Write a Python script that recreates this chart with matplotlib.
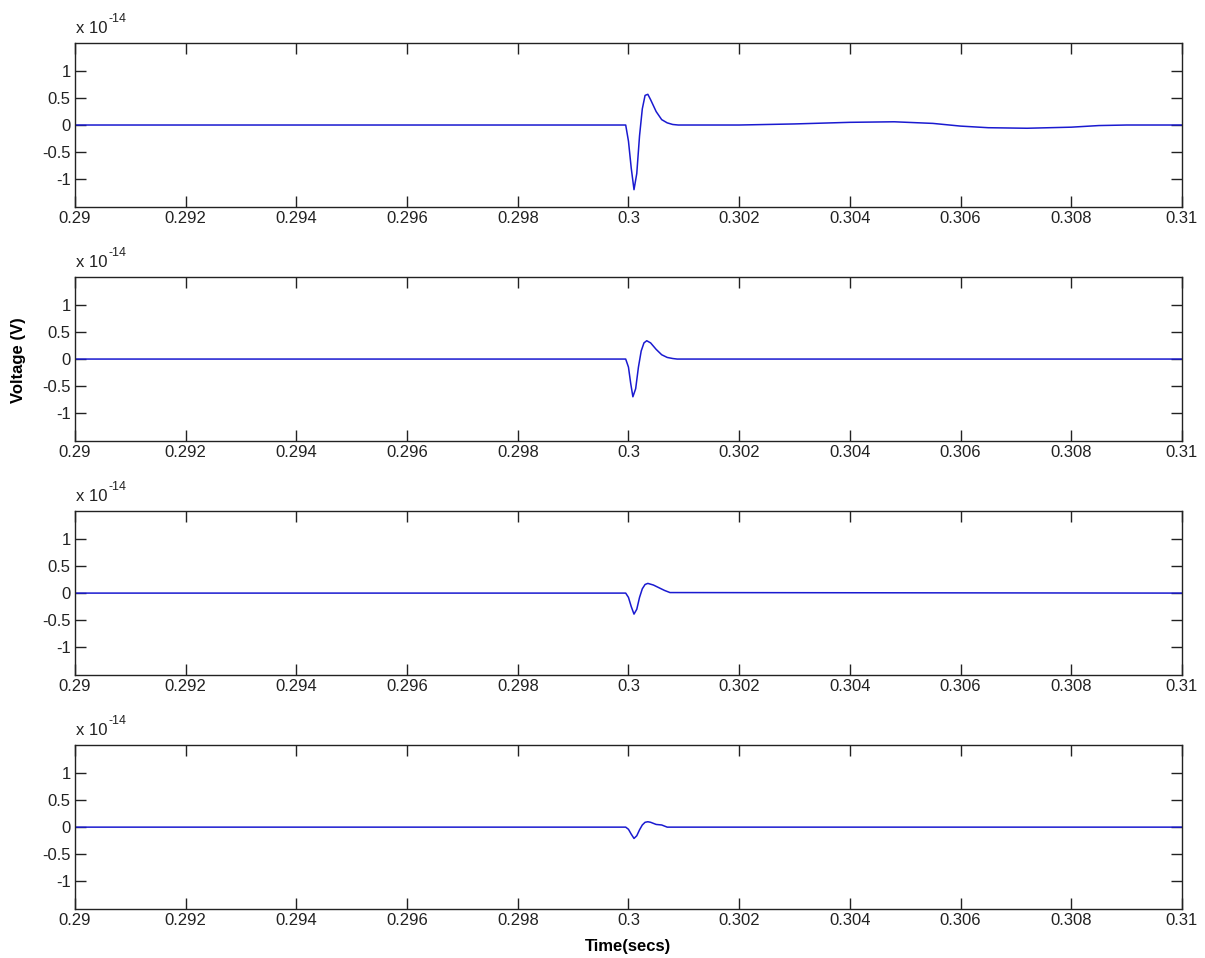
import numpy as np
import matplotlib
matplotlib.use("Agg")
import matplotlib.pyplot as plt

plt.rcParams['font.family'] = ['Liberation Sans', 'DejaVu Sans']

# tiempos y voltajes (en unidades de 1e-14 V)
t1 = [0.29, 0.29995, 0.30000, 0.30005, 0.30010, 0.30015, 0.30020, 0.30025,
      0.30030, 0.30035, 0.30040, 0.30050, 0.30060, 0.30070, 0.30080, 0.30090,
      0.3020, 0.3030, 0.3040, 0.3048, 0.3055, 0.3060, 0.3065, 0.3072,
      0.3080, 0.3085, 0.3090, 0.31]
v1 = [0, 0, -0.3, -0.8, -1.2, -0.9, -0.2, 0.3,
      0.55, 0.57, 0.47, 0.25, 0.1, 0.04, 0.01, 0,
      0, 0.02, 0.05, 0.06, 0.03, -0.02, -0.05, -0.06,
      -0.04, -0.01, 0, 0]

t2 = [0.29, 0.29995, 0.30000, 0.30004, 0.30008, 0.30013, 0.30018, 0.30023,
      0.30028, 0.30033, 0.30040, 0.30050, 0.30060, 0.30070, 0.30080, 0.30088, 0.31]
v2 = [0, 0, -0.15, -0.45, -0.70, -0.55, -0.15, 0.15,
      0.30, 0.34, 0.30, 0.18, 0.08, 0.03, 0.01, 0, 0]

t3 = [0.29, 0.29995, 0.30000, 0.30005, 0.30010, 0.30015, 0.30020, 0.30025,
      0.30030, 0.30035, 0.30045, 0.30055, 0.30065, 0.30075, 0.31]
v3 = [0, 0, -0.08, -0.25, -0.39, -0.30, -0.08, 0.08,
      0.16, 0.18, 0.15, 0.10, 0.05, 0.01, 0]

t4 = [0.29, 0.29995, 0.30000, 0.30005, 0.30010, 0.30015, 0.30020, 0.30025,
      0.30030, 0.30035, 0.30040, 0.30050, 0.30060, 0.30070, 0.31]
v4 = [0, 0, -0.04, -0.13, -0.21, -0.16, -0.05, 0.04,
      0.09, 0.10, 0.09, 0.05, 0.04, 0.0, 0]

series = [(t1, v1), (t2, v2), (t3, v3), (t4, v4)]

xticks = [0.29, 0.292, 0.294, 0.296, 0.298, 0.3, 0.302, 0.304, 0.306, 0.308, 0.31]
xlabels = ['0.29', '0.292', '0.294', '0.296', '0.298', '0.3', '0.302',
           '0.304', '0.306', '0.308', '0.31']
yticks = [-1, -0.5, 0, 0.5, 1]
ylabels = ['-1', '-0.5', '0', '0.5', '1']

fig = plt.figure(figsize=(12.05, 9.58), dpi=100)

bottoms = [0.784, 0.5397, 0.2954, 0.0511]
for (t, v), b in zip(series, bottoms):
    ax = fig.add_axes([0.0622, b, 0.9187, 0.171])
    ax.plot(t, v, color='#1a1ad0', lw=1.1)
    ax.set_xlim(0.29, 0.31)
    ax.set_ylim(-1.52, 1.52)
    ax.set_xticks(xticks)
    ax.set_xticklabels(xlabels)
    ax.set_yticks(yticks)
    ax.set_yticklabels(ylabels)
    ax.tick_params(direction='in', length=8, width=1, top=True, right=True,
                   labelsize=12, pad=3, colors='#222222')
    for s in ax.spines.values():
        s.set_linewidth(1)
        s.set_color('#222222')
    # multiplicador estilo MATLAB
    ax.annotate('x 10', xy=(0, 1), xycoords='axes fraction',
                xytext=(1, 5), textcoords='offset points',
                fontsize=12, ha='left', va='bottom', color='#222222')
    ax.annotate('-14', xy=(0, 1), xycoords='axes fraction',
                xytext=(24, 13), textcoords='offset points',
                fontsize=9, ha='left', va='bottom', color='#222222')

fig.text(0.015, 1 - 360 / 958, 'Voltage (V)', rotation=90, fontsize=12,
         fontweight='bold', ha='center', va='center')
fig.text(628 / 1205, 1 - 946 / 958, 'Time(secs)', fontsize=12,
         fontweight='bold', ha='center', va='center')

fig.savefig('out.png', dpi=100)
